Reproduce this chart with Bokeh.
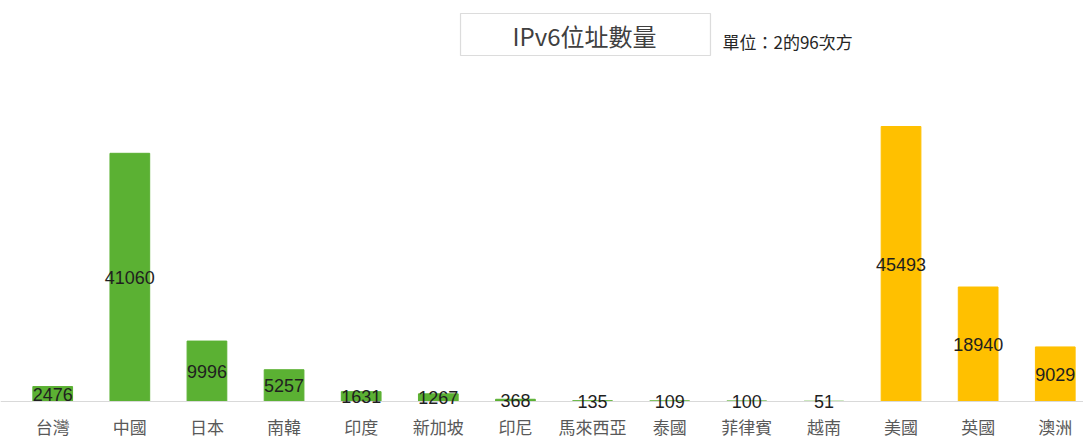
from bokeh.plotting import figure
from bokeh.models import ColumnDataSource, LabelSet, Label, BoxAnnotation, Range1d, Span
from bokeh.core.properties import value
from bokeh.embed import file_html
from bokeh.resources import INLINE

categories = ["台灣", "中國", "日本", "南韓", "印度", "新加坡", "印尼", "馬來西亞", "泰國", "菲律賓", "越南", "美國", "英國", "澳洲"]
values = [2476, 41060, 9996, 5257, 1631, 1267, 368, 135, 109, 100, 51, 45493, 18940, 9029]
groups = ["asia"] * 11 + ["west"] * 3
group_colors = {"asia": "#5BB133", "west": "#FFC000"}
title_text = "IPv6位址數量"
unit_text = "單位：2的96次方"

xs = list(range(len(categories)))
src = ColumnDataSource(dict(
    x=xs,
    v=values,
    mid=[v / 2 for v in values],
    lab=[str(v) for v in values],
    cat=categories,
    base=[0] * len(categories),
    color=[group_colors[g] for g in groups],
))

W, H = 1083, 439
p = figure(width=W, height=H, output_backend="svg", toolbar_location=None,
           x_range=Range1d(-0.677, 13.366), y_range=Range1d(-6286, 66337),
           min_border_left=0, min_border_right=0, min_border_top=0, min_border_bottom=0)
p.outline_line_color = None
p.background_fill_color = "white"
p.border_fill_color = "white"
p.grid.visible = False
p.xaxis.visible = False
p.yaxis.visible = False

p.vbar(x="x", top="v", width=0.515, bottom=0, color="color", source=src)

p.add_layout(Span(location=0, dimension="width", line_color="#d9d9d9", line_width=1))

cat_labels = LabelSet(x="x", y="base", text="cat", source=src, text_align="center",
                      text_baseline="middle", y_offset=-25,
                      text_font=value("Noto Sans CJK TC"), text_font_size="17px",
                      text_color="#595959")
p.add_layout(cat_labels)

labels = LabelSet(x="x", y="mid", text="lab", source=src, text_align="center",
                  text_baseline="middle", text_font=value("Liberation Sans"),
                  text_font_size="18px", text_color="#1f1f1f")
p.add_layout(labels)

box = BoxAnnotation(left=5.288, right=8.529, top=64187, bottom=57238,
                    fill_color=None, fill_alpha=0, line_color="#8c8c8c", line_width=1.2)
p.add_layout(box)

p.add_layout(Label(x=6.896, y=60547, text=title_text, text_align="center",
                   text_baseline="middle", text_font="Noto Sans CJK TC",
                   text_font_size="24px", text_color="#404040"))
p.add_layout(Label(x=8.685, y=59555, text=unit_text, text_align="left",
                   text_baseline="middle", text_font="Noto Sans CJK TC",
                   text_font_size="17px", text_color="#262626"))

open("out.html", "w").write(file_html(p, INLINE))
